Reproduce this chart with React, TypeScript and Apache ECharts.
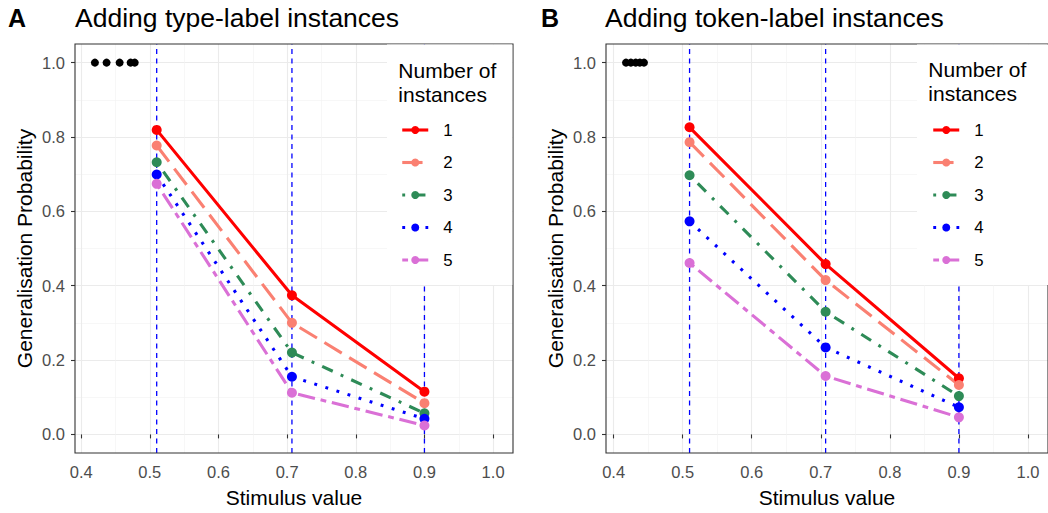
import React, { useEffect, useRef } from 'react';
import * as echarts from 'echarts';

// ---- data ----
const stimulusValues = [0.51, 0.707, 0.9];
const instanceNames = ['1', '2', '3', '4', '5'];
const typeLabel1 = [0.819, 0.374, 0.115];
const typeLabel2 = [0.777, 0.3, 0.084];
const typeLabel3 = [0.732, 0.22, 0.057];
const typeLabel4 = [0.699, 0.155, 0.042];
const typeLabel5 = [0.674, 0.112, 0.024];
const tokenLabel1 = [0.826, 0.458, 0.151];
const tokenLabel2 = [0.786, 0.415, 0.133];
const tokenLabel3 = [0.697, 0.33, 0.103];
const tokenLabel4 = [0.573, 0.234, 0.073];
const tokenLabel5 = [0.461, 0.157, 0.046];
const typeTrainX = [0.42, 0.437, 0.456, 0.472, 0.478];
const tokenTrainX = [0.418, 0.425, 0.432, 0.438, 0.444];
const trainY = [1, 1, 1, 1, 1];
const xTicks = [0.4, 0.5, 0.6, 0.7, 0.8, 0.9, 1.0];
const yTicks = [0, 0.2, 0.4, 0.6, 0.8, 1.0];
const yLimits = [-0.05, 1.05];
const xLimitsA = [0.391, 1.029];
const xLimitsB = [0.389, 1.029];

const FONT = "'Liberation Sans', Arial, sans-serif";
const colors = ['#FF0000', '#FA8072', '#2E8B57', '#0000FF', '#DA70D6'];
const LW = 3.1;
const U = 2.9;
const dashes: any[] = [
  'solid',
  [7 * U, 3 * U],
  [1 * U, 3 * U, 4 * U, 3 * U],
  [1 * U, 3 * U],
  [2 * U, 2 * U, 6 * U, 2 * U],
];

// legend box (pixels)
const legendBoxes = [
  { x: 387, y: 44.6, w: 125.3, h: 240.5 },
  { x: 917, y: 44.6, w: 131, h: 240.5 },
];

function buildOption() {
  const typeSets = [typeLabel1, typeLabel2, typeLabel3, typeLabel4, typeLabel5];
  const tokenSets = [tokenLabel1, tokenLabel2, tokenLabel3, tokenLabel4, tokenLabel5];

  const grids = [
    { left: 75, top: 44, width: 438, height: 409 },
    { left: 606, top: 44, width: 446, height: 409 },
  ].map((g) => ({ ...g, show: true, borderColor: '#333333', borderWidth: 1.1, backgroundColor: 'transparent' }));

  const mkX = (idx: number, lim: number[]) => ({
    type: 'value',
    gridIndex: idx,
    z: -2,
    min: lim[0],
    max: lim[1],
    name: 'Stimulus value',
    nameLocation: 'middle',
    nameGap: 34,
    nameTextStyle: { fontSize: 21, color: '#000', fontFamily: FONT },
    axisLine: { show: false },
    axisTick: { show: true, length: 4, customValues: xTicks, lineStyle: { color: '#333333', width: 1.1 } },
    axisLabel: {
      customValues: xTicks,
      color: '#4D4D4D',
      fontSize: 16.5,
      fontFamily: FONT,
      margin: 10,
      formatter: (v: number) => v.toFixed(1),
    },
    splitLine: { show: true, lineStyle: { color: '#EBEBEB', width: 1.1 } },
    minorTick: { show: false, splitNumber: 2 },
    minorSplitLine: { show: true, lineStyle: { color: '#F2F2F2', width: 0.6 } },
  });
  const mkY = (idx: number) => ({
    type: 'value',
    gridIndex: idx,
    z: -2,
    min: yLimits[0],
    max: yLimits[1],
    name: 'Generalisation Probability',
    nameLocation: 'middle',
    nameGap: 40,
    nameTextStyle: { fontSize: 21, color: '#000', fontFamily: FONT },
    axisLine: { show: false },
    axisTick: { show: true, length: 4, customValues: yTicks, lineStyle: { color: '#333333', width: 1.1 } },
    axisLabel: {
      customValues: yTicks,
      color: '#4D4D4D',
      fontSize: 16.5,
      fontFamily: FONT,
      margin: 10,
      formatter: (v: number) => v.toFixed(1),
    },
    splitLine: { show: true, lineStyle: { color: '#EBEBEB', width: 1.1 } },
    minorTick: { show: false, splitNumber: 2 },
    minorSplitLine: { show: true, lineStyle: { color: '#F2F2F2', width: 0.6 } },
  });

  const series: any[] = [];
  // vertical reference lines at the stimulus values
  [0, 1].forEach((p) => {
    stimulusValues.forEach((x, j) => {
      series.push({
        type: 'line',
        name: 'vline' + p + '_' + j,
        xAxisIndex: p,
        yAxisIndex: p,
        data: yLimits.map((y) => [x, y]),
        symbol: 'none',
        silent: true,
        z: -1,
        lineStyle: { color: '#0000FF', type: [5, 4.5], width: 1.3 },
        itemStyle: { color: '#0000FF' },
      });
    });
  });
  [typeTrainX, tokenTrainX].forEach((tx, p) => {
    series.push({
      type: 'scatter',
      name: 'train' + p,
      xAxisIndex: p,
      yAxisIndex: p,
      data: tx.map((x, i) => [x, trainY[i]]),
      symbolSize: 8,
      itemStyle: { color: '#000000', opacity: 1 },
      silent: true,
      z: 2,
    });
  });
  [typeSets, tokenSets].forEach((sets, p) => {
    sets.forEach((vals, k) => {
      series.push({
        type: 'line',
        name: instanceNames[k],
        xAxisIndex: p,
        yAxisIndex: p,
        data: stimulusValues.map((x, i) => [x, vals[i]]),
        symbol: 'circle',
        symbolSize: 10,
        showSymbol: true,
        lineStyle: { color: colors[k], width: LW, type: dashes[k], cap: 'butt' },
        itemStyle: { color: colors[k], opacity: 1 },
        z: 3,
      });
    });
  });

  const mkLegend = (left: number) => ({
    data: instanceNames,
    orient: 'vertical',
    left,
    top: 120,
    padding: 0,
    itemWidth: 26,
    itemHeight: 10,
    itemGap: 12.5,
    selectedMode: false,
    z: 30,
    lineStyle: { width: LW },
    textStyle: { fontSize: 16.8, color: '#000', fontFamily: FONT, lineHeight: 20, padding: [0, 0, 0, 10] },
  });

  const graphicEls: any[] = [
    ...legendBoxes.map((b) => ({ type: 'rect', z: 20, shape: { x: b.x, y: b.y, width: b.w, height: b.h }, style: { fill: '#FFFFFF' } })),
    { type: 'text', z: 21, x: 398.3, y: 59, style: { text: 'Number of\ninstances', fontSize: 21, lineHeight: 23.5, fill: '#000', font: `21px ${FONT}`, verticalAlign: 'top' } },
    { type: 'text', z: 21, x: 928.3, y: 58, style: { text: 'Number of\ninstances', fontSize: 21, lineHeight: 23.5, fill: '#000', font: `21px ${FONT}`, verticalAlign: 'top' } },
    { type: 'text', z: 21, x: 8, y: 18, style: { text: 'A', font: `bold 25px ${FONT}`, fill: '#000', verticalAlign: 'middle' } },
    { type: 'text', z: 21, x: 75, y: 18, style: { text: 'Adding type-label instances', font: `26.5px ${FONT}`, fill: '#000', verticalAlign: 'middle' } },
    { type: 'text', z: 21, x: 541, y: 18, style: { text: 'B', font: `bold 25px ${FONT}`, fill: '#000', verticalAlign: 'middle' } },
    { type: 'text', z: 21, x: 605, y: 18, style: { text: 'Adding token-label instances', font: `26.5px ${FONT}`, fill: '#000', verticalAlign: 'middle' } },
  ];

  return {
    animation: false,
    backgroundColor: '#FFFFFF',
    textStyle: { fontFamily: FONT },
    grid: grids,
    xAxis: [mkX(0, xLimitsA), mkX(1, xLimitsB)],
    yAxis: [mkY(0), mkY(1)],
    legend: [mkLegend(400.7), mkLegend(931.7)],
    graphic: { elements: graphicEls },
    series,
  };
}

export default function App() {
  const ref = useRef<HTMLDivElement>(null);
  useEffect(() => {
    if (!ref.current) return;
    const chart = echarts.init(ref.current, undefined, { renderer: 'svg' });
    chart.setOption(buildOption() as any);
    return () => chart.dispose();
  }, []);
  return (
    <div
      ref={ref}
      style={{ position: 'absolute', left: 0, top: 0, width: 1048, height: 513, background: '#fff' }}
    />
  );
}
